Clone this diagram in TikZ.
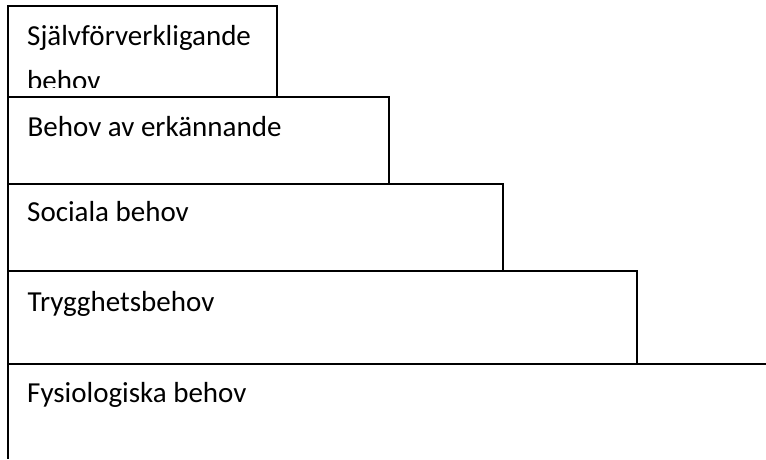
\documentclass[tikz,border=0pt]{standalone}
\usepackage{fontspec}
\setmainfont{Carlito}
\begin{document}
\begin{tikzpicture}[x=1pt,y=-1pt,
  stepline/.style={draw=black,line width=2pt},
  label/.style={anchor=base west,inner sep=0pt,font=\fontsize{29}{44}\selectfont}]
\useasboundingbox (0,0) rectangle (766,459);
% corners
\coordinate (a1) at (8,6);    \coordinate (b1) at (277,96.5);
\coordinate (a2) at (8,96.5); \coordinate (b2) at (389,183.5);
\coordinate (a3) at (8,183.5);\coordinate (b3) at (503,271);
\coordinate (a4) at (8,271);  \coordinate (b4) at (637,364);
\coordinate (a5) at (8,364);  \coordinate (r5) at (766,364); \coordinate (d5) at (8,459);
% boxes
\draw[stepline] (a1) rectangle (b1);
\draw[stepline] (a2) rectangle (b2);
\draw[stepline] (a3) rectangle (b3);
\draw[stepline] (a4) rectangle (b4);
\draw[stepline] (r5) -- (a5) -- (d5);
% texts
\begin{scope}
\clip (9,7) rectangle (276,87);
\node[label] (t1a) at (27,45.7) {Självförverkligande};
\node[label] (t1b) at (27,90) {behov};
\end{scope}
\node[label] (t2) at (27.5,136) {Behov av erkännande};
\node[label] (t3) at (27,221.7) {Sociala behov};
\node[label] (t4) at (27.5,311) {Trygghetsbehov};
\node[label] (t5) at (27,402.7) {Fysiologiska behov};
\end{tikzpicture}
\end{document}
